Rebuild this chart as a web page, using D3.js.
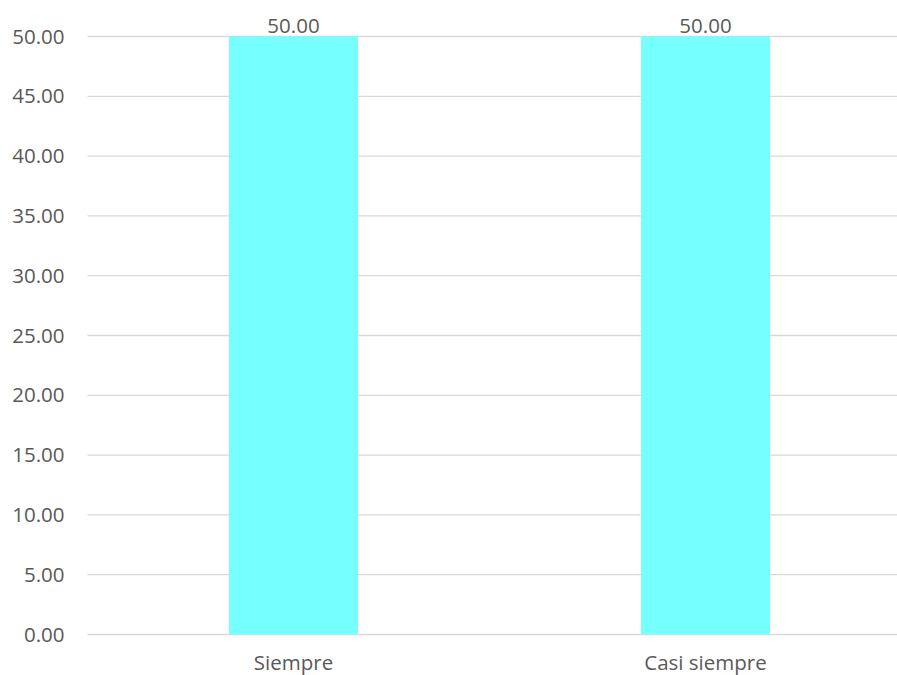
<!DOCTYPE html>
<html><head><meta charset="utf-8">
<script src="https://cdn.jsdelivr.net/npm/d3@7"></script>
<style>body{margin:0;background:#fff;overflow:hidden}svg{display:block}text{font-family:"Open Sans",sans-serif;fill:#595959}</style>
</head><body>
<script>
const categories = ["Siempre", "Casi siempre"];
const values = [50.00, 50.00];
const yTicks = [0,5,10,15,20,25,30,35,40,45,50];

const W = 897, H = 675;
const FS = 20.5;
const m = {left: 87.5, right: -14.5, top: 36, bottom: 41};
const svg = d3.select("body").append("svg").attr("width", W).attr("height", H);
const x = d3.scaleBand().domain(categories).range([m.left, W - m.right]).paddingInner(0.687).paddingOuter(0.3435);
const y = d3.scaleLinear().domain([0, 50]).range([H - m.bottom, m.top]);

const gy = svg.append("g").attr("transform", `translate(${m.left},0)`)
  .call(d3.axisLeft(y).tickValues(yTicks).tickSize(-(W - m.left - m.right)).tickFormat(d3.format(".2f")));
gy.select(".domain").remove();
gy.selectAll(".tick line").attr("stroke", "#d9d9d9").attr("stroke-width", 1.3);
gy.selectAll(".tick text").attr("x", -23).attr("font-size", FS).style("fill", "#595959").attr("dy", "0.35em");

svg.selectAll("rect.bar").data(values).join("rect").attr("class", "bar")
  .attr("x", (d, i) => x(categories[i])).attr("width", x.bandwidth())
  .attr("y", d => y(d)).attr("height", d => y(0) - y(d)).attr("fill", "#75FFFF");

svg.selectAll("text.lbl").data(values).join("text").attr("class", "lbl")
  .attr("x", (d, i) => x(categories[i]) + x.bandwidth() / 2).attr("y", d => y(d) - 3)
  .attr("text-anchor", "middle").attr("font-size", FS).text(d => d3.format(".2f")(d));

const gx = svg.append("g").attr("transform", `translate(0,${y(0)})`)
  .call(d3.axisBottom(x).tickSize(0).tickPadding(21.5));
gx.select(".domain").remove();
gx.selectAll(".tick text").attr("font-size", FS).style("fill", "#595959");
</script>
</body></html>
